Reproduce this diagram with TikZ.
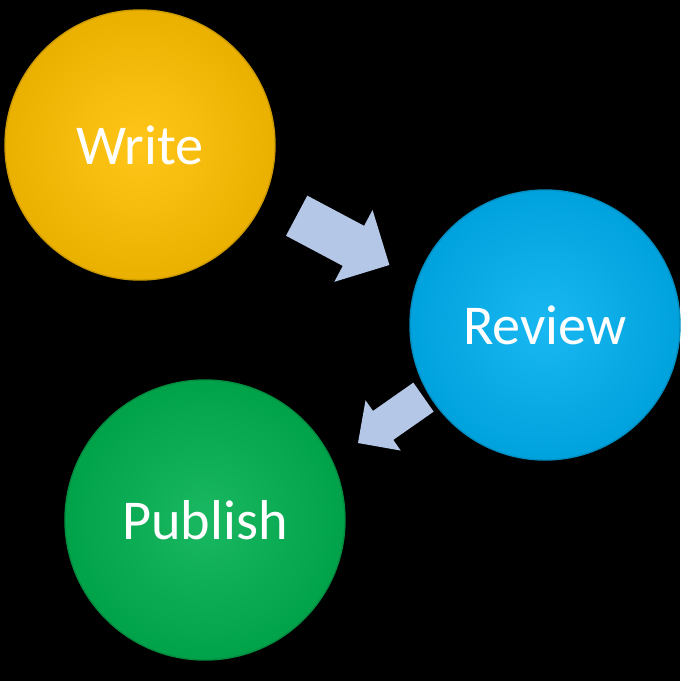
\documentclass[tikz,border=0pt]{standalone}
\usepackage{fontspec}
\setmainfont{Carlito}
\usetikzlibrary{shapes.arrows,shadings}
\definecolor{writec}{HTML}{FFC000}
\definecolor{reviewc}{HTML}{00B0F0}
\definecolor{publishc}{HTML}{00B050}
\definecolor{arrowc}{HTML}{B4C7E7}
\tikzset{
  stage/.style={circle, minimum size=2.7cm, inner sep=0pt, text=white,
    font=\fontsize{16}{19}\selectfont, draw=#1!80!black, line width=0.4pt,
    inner color=#1!90!white, outer color=#1!92!black},
  flow arrow/.style={single arrow, fill=arrowc, draw=none, minimum height=1.05cm,
    single arrow head extend=0.18cm, inner sep=0.22cm}
}
\begin{document}
\begin{tikzpicture}
  \fill[black] (0,0) rectangle (6.80,-6.81);
  \useasboundingbox (0,0) rectangle (6.80,-6.81);

  \node[stage=writec] (write) at (1.40,-1.45) {Write};
  \node[stage=reviewc] (review) at (5.45,-3.25) {Review};
  \node[stage=publishc, minimum size=2.8cm] (publish) at (2.05,-5.20) {Publish};

  \node[flow arrow, rotate=-28] (wr) at (3.33,-2.35) {};
  \node[flow arrow, rotate=-145, minimum height=0.8cm, inner sep=0.17cm,
    single arrow head extend=0.13cm] (rp) at (3.98,-4.15) {};
\end{tikzpicture}
\end{document}
